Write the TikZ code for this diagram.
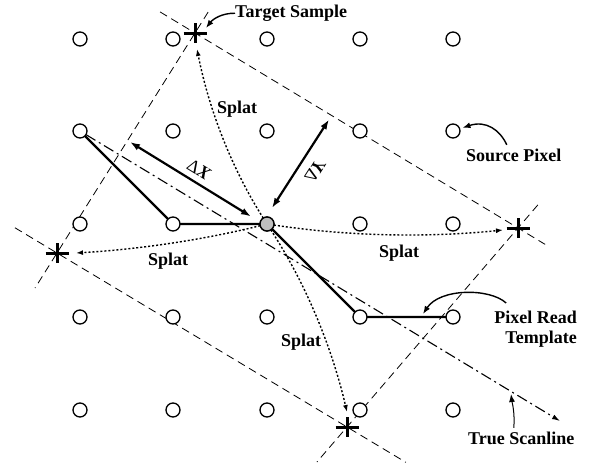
\documentclass[tikz,border=0pt]{standalone}
\usepackage{fontspec}
\setmainfont{Liberation Serif}
\usetikzlibrary{arrows.meta,calc,backgrounds}

\begin{document}
\begin{tikzpicture}[x=1pt,y=-1pt,
  pix/.style={circle,draw,line width=1.3pt,fill=white,minimum size=14pt,inner sep=0pt,outer sep=0pt},
  ctr/.style={pix,fill=black!25},
  gridline/.style={line width=0.8pt,dash pattern=on 8pt off 5pt},
  splat/.style={line width=1.4pt,dash pattern=on 2pt off 2pt,-{Latex[length=7pt,width=5pt]}},
  tmpl/.style={line width=2.2pt},
  scan/.style={line width=1.1pt,dash pattern=on 11pt off 4pt on 2pt off 4pt,-{Latex[length=8pt,width=5pt]}},
  dim/.style={line width=2.2pt,{Latex[length=10pt,width=7pt]}-{Latex[length=10pt,width=7pt]}},
  note/.style={line width=1.4pt,-{Latex[length=8pt,width=6pt]}},
  lbl/.style={font=\fontsize{18}{20}\selectfont\bfseries,inner sep=0pt},
  dlbl/.style={font=\fontsize{18}{20}\selectfont,inner sep=0pt},
  targetcross/.pic={\draw[line width=3pt] (-11.5,0) -- (11.5,0) (0,-10) -- (0,10);}
]
\useasboundingbox (0,0) rectangle (595,464);

% source pixel lattice
\foreach \r/\y in {1/39,2/131,3/224,4/317,5/410}
  \foreach \c/\x in {1/80,2/173,3/267,4/360,5/453}
    \node[pix] (p\r\c) at (\x,\y) {};
\node[ctr] (p33) at (267,224) {};

% target samples
\coordinate (tTop) at (195,33);
\coordinate (tLeft) at (57,253);
\coordinate (tRight) at (518,228);
\coordinate (tBot) at (347,427);

% splat arrow ends
\coordinate (sTop) at (197,49);
\coordinate (sLeft) at (76,253);
\coordinate (sRight) at (503,230);
\coordinate (sBot) at (347,412);

\coordinate (scanEnd) at (560,421);

\begin{scope}[on background layer]
  % rotated target grid
  \draw[gridline] ($(tTop)!-0.108!(tRight)$) -- ($(tTop)!1.084!(tRight)$);
  \draw[gridline] ($(tLeft)!-0.145!(tBot)$) -- ($(tLeft)!1.203!(tBot)$);
  \draw[gridline] ($(tTop)!-0.095!(tLeft)$) -- ($(tTop)!1.159!(tLeft)$);
  \draw[gridline] ($(tRight)!-0.116!(tBot)$) -- ($(tRight)!1.176!(tBot)$);
  % splats
  \draw[splat] (p33) .. controls (232.7,170) and (209.3,111.6) .. (sTop);
  \draw[splat] (p33) .. controls (304.7,282) and (331.3,344.6) .. (sBot);
  \draw[splat] (p33) .. controls (204.2,239.6) and (140.6,249.2) .. (sLeft);
  \draw[splat] (p33) .. controls (346,236) and (425,238) .. (sRight);
  % true scanline
  \draw[scan] (p21) -- (scanEnd);
\end{scope}

% pixel read template
\draw[tmpl] (p21) -- (p32) -- (p33) -- (p44) -- (p45);

% target crosses
\foreach \t in {tTop,tLeft,tRight,tBot}
  \pic at (\t) {targetcross};

% distances to the target grid
\coordinate (dxA) at (130,142);
\coordinate (dxB) at (251,216.5);
\coordinate (dyA) at (272,208);
\coordinate (dyB) at (329,119.5);
\draw[dim] (dxA) -- (dxB);
\draw[dim] (dyA) -- (dyB);
\node[dlbl,rotate=-31.5] (dx) at (199,170) {Δ\textbf{\textit{X}}};
\node[dlbl,rotate=57.5,yscale=-1] (dy) at (315,171) {Δ\textbf{\textit{Y}}};

% labels
\node[lbl,anchor=base west] (lSplatT) at (217,113) {Splat};
\node[lbl,anchor=base west] (lSplatL) at (148,265.5) {Splat};
\node[lbl,anchor=base west] (lSplatR) at (379,257) {Splat};
\node[lbl,anchor=base west] (lSplatB) at (281,346) {Splat};
\node[lbl,anchor=base west] (ts) at (235,17.5) {Target Sample};
\node[lbl,anchor=base west] (sp) at (466,161.5) {Source Pixel};
\node[lbl,anchor=north east,align=right] (prt) at (577,310.5) {Pixel Read\\Template};
\node[lbl,anchor=base west] (tsl) at (468,444) {True Scanline};

% callouts
\coordinate (tsTip) at (206,28);
\coordinate (prtTip) at (423,314);
\coordinate (scanTip) at (511,394);
\draw[note] (ts.west) .. controls (222,13) and (213,19) .. (tsTip);
\draw[note,shorten >=3pt] ([xshift=-7pt,yshift=4pt]sp.north) .. controls (500,130) and (486,120) .. (p25);
\draw[note] ([xshift=12pt,yshift=7.5pt]prt.north west) .. controls (490,288) and (440,288) .. (prtTip);
\draw[note,line width=1pt] ([xshift=-7.5pt,yshift=3.5pt]tsl.north) .. controls (515,412) and (512,402) .. (scanTip);
\end{tikzpicture}
\end{document}
